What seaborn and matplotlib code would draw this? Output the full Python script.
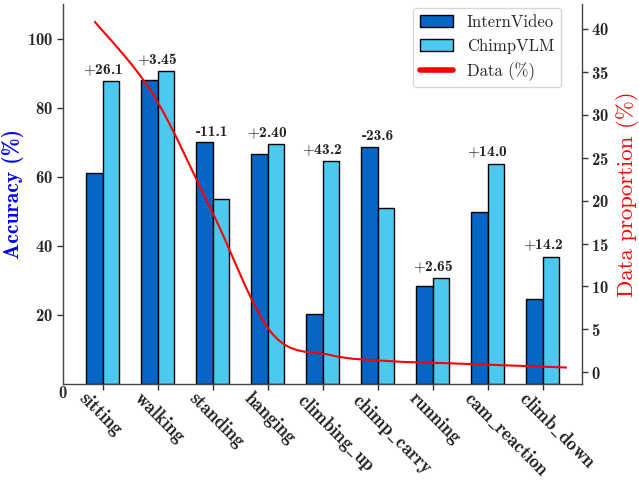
import numpy as np
import pandas as pd
import matplotlib
matplotlib.use("Agg")
import matplotlib.pyplot as plt
import seaborn as sns
from matplotlib.path import Path
from matplotlib.patches import PathPatch, Patch
from matplotlib.lines import Line2D

categories = ["sitting", "walking", "standing", "hanging", "climbing_up",
              "chimp_carry", "running", "cam_reaction", "climb_down"]
internvideo = [61.0, 88.0, 70.0, 66.4, 20.3, 68.6, 28.2, 49.8, 24.4]
chimpvlm = [87.7, 90.5, 53.5, 69.4, 64.4, 50.9, 30.6, 63.7, 36.8]
gain_labels = ["+26.1", "+3.45", "-11.1", "+2.40", "+43.2", "-23.6", "+2.65", "+14.0", "+14.2"]
data_pct = [40.9, 32.3, 18.6, 4.6, 2.0, 1.3, 1.05, 0.8, 0.55]
acc_ticks = [20, 40, 60, 80, 100]
prop_ticks = [0, 5, 10, 15, 20, 25, 30, 35, 40]

IV_COLOR = "#0566C6"
CV_COLOR = "#4CC9F0"
BOLD = ["cmb10", "DejaVu Serif"]
REG = ["cmr10", "DejaVu Serif"]

sns.set_theme(style="white")
plt.rcParams["font.family"] = BOLD
plt.rcParams["axes.formatter.use_mathtext"] = True
plt.rcParams["axes.unicode_minus"] = False
plt.rcParams["mathtext.fontset"] = "cm"


def tex_label(s):
    # render underscore / plus the LaTeX way
    s = s.replace("_", r"$\_$")
    if s.startswith("+"):
        s = r"$+$" + s[1:]
    return s


W, H = 639, 480
fig = plt.figure(figsize=(W / 100, H / 100), dpi=100)
ax = fig.add_axes([63 / W, 1 - 383.7 / H, (581.7 - 63) / W, (383.7 - 4) / H])

df = pd.DataFrame({
    "category": categories * 2,
    "accuracy": internvideo + chimpvlm,
    "model": ["InternVideo"] * len(categories) + ["ChimpVLM"] * len(categories),
})
sns.barplot(data=df, x="category", y="accuracy", hue="model",
            palette=[IV_COLOR, CV_COLOR], width=0.6, saturation=1,
            edgecolor="black", linewidth=1, ax=ax, legend=False, errorbar=None)

for i, lab in enumerate(gain_labels):
    top = max(internvideo[i], chimpvlm[i])
    ax.annotate(tex_label(lab), (i, top), xytext=(0, 2.5), textcoords="offset points",
                ha="center", va="bottom", fontsize=11, color="#222222")

ax.set_xlim(-0.72, 8.71)
ax.set_ylim(0, 110)
ax.set_yticks(acc_ticks)
ax.set_xticks(range(len(categories)))
ax.set_xticklabels([])
for i, c in enumerate(categories):
    ax.annotate(tex_label(c), (i, 0), xycoords=("data", "axes fraction"),
                xytext=(-10.5, -3.8), textcoords="offset points",
                rotation=-45, ha="left", va="top", rotation_mode="anchor",
                fontsize=13.5, color="#222222")
ax.set_xlabel("")
ax.set_ylabel("Accuracy (%)", color="blue", fontsize=15.5, labelpad=2)
ax.tick_params(axis="y", labelsize=12, length=4, width=1, color="#333333", left=True, pad=3)
ax.tick_params(axis="x", length=4, width=1, color="#333333", bottom=True, pad=3)
ax.annotate("0", (0, 0), xycoords="axes fraction", xytext=(0, -2), textcoords="offset points",
            ha="center", va="top", fontsize=12)

for s in ["left", "bottom"]:
    ax.spines[s].set_color("#444444")
    ax.spines[s].set_linewidth(1)
ax.spines["top"].set_visible(False)
ax.spines["right"].set_visible(False)

ax2 = ax.twinx()
ax2.set_ylim(-1.33, 42.9)
ax2.set_yticks(prop_ticks)
ax2.tick_params(axis="y", labelsize=12, length=4, width=1, color="#333333", right=True, pad=3)
ax2.set_ylabel("Data proportion (%)", color="red", fontsize=16.4, family=REG, labelpad=5)
for s in ["left", "bottom", "top"]:
    ax2.spines[s].set_visible(False)
ax2.spines["right"].set_color("#444444")
ax2.spines["right"].set_linewidth(1)

# smooth line through the data points (Bezier rendering)
xs = np.array([-0.15 + 1.074 * i for i in range(len(data_pct))])
ys = np.array(data_pct)
pts = np.column_stack([xs, ys])
ext = np.vstack([pts[0], pts, pts[-1]])
verts = [tuple(pts[0])]
codes = [Path.MOVETO]
for k in range(len(pts) - 1):
    p0, p1, p2, p3 = ext[k], ext[k + 1], ext[k + 2], ext[k + 3]
    c1 = p1 + (p2 - p0) / 6.0
    c2 = p2 - (p3 - p1) / 6.0
    verts += [tuple(c1), tuple(c2), tuple(p2)]
    codes += [Path.CURVE4] * 3
ax2.add_patch(PathPatch(Path(verts, codes), facecolor="none", edgecolor="red", lw=1.5))

handles = [Patch(facecolor=IV_COLOR, edgecolor="black", label="InternVideo"),
           Patch(facecolor=CV_COLOR, edgecolor="black", label="ChimpVLM"),
           Line2D([0], [0], color="red", lw=4, label="Data (%)")]
ax2.legend(handles=handles, loc="upper right", bbox_to_anchor=(560.7 / W, 1 - 8 / H),
           bbox_transform=fig.transFigure, borderaxespad=0, prop={"family": REG, "size": 12},
           frameon=True, edgecolor="#cccccc", fancybox=True)

fig.savefig("out.png", dpi=100)
